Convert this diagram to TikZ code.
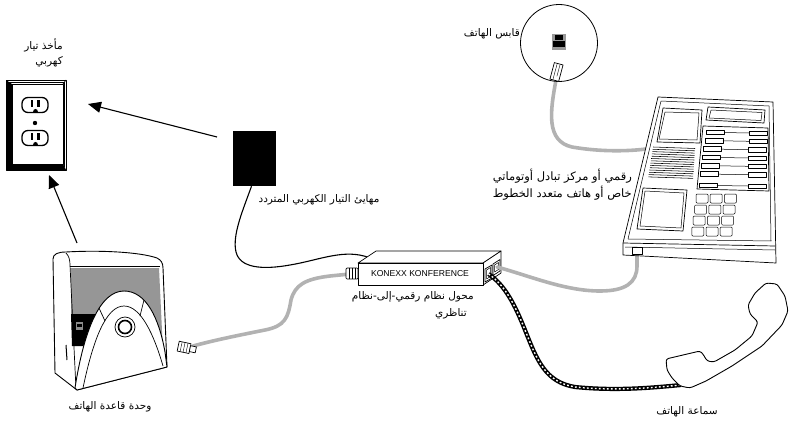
\documentclass[tikz,border=0pt]{standalone}
\usepackage{fontspec}
\usetikzlibrary{arrows.meta}
\TeXXeTstate=1
\newfontfamily\arabicfont[Script=Arabic]{DejaVu Sans}
\newfontfamily\latinsans{Liberation Sans}
\definecolor{cablegray}{RGB}{178,178,178}
\definecolor{windowgray}{RGB}{150,150,150}
\begin{document}
\begin{tikzpicture}[x=1pt,y=-1pt,
  lbl/.style={font=\arabicfont\fontsize{10.5}{12}\selectfont, inner sep=0pt},
  lblwide/.style={font=\arabicfont\fontsize{11.5}{13}\selectfont, inner sep=0pt},
  ink/.style={draw=black, line width=0.7pt, line join=round},
  gcable/.style={draw=cablegray, line width=3.6pt, line cap=round},
  bwire/.style={draw=black, line width=1.1pt},
  twcord/.style={draw=black, line width=4.2pt, postaction={draw=white, line width=1.4pt, dash pattern=on 1.8pt off 2.2pt}},
  bigarrow/.style={draw=black, line width=1.1pt, -{Triangle[length=13pt,width=11pt]}},
]
\useasboundingbox (0,0) rectangle (789,420);

% ================= outlet =================
\node[inner sep=0pt, minimum width=60pt, minimum height=90pt] (outlet) at (36,125) {};
\fill[black] (6,80) -- (12,84) -- (12,164) -- (63,164) -- (66,170) -- (6,170) -- cycle;
\draw[ink, line width=0.9pt] (6,80) rectangle (66,170);
\draw[ink] (12,84) rectangle (63,164);
\draw[ink, line width=0.5pt] (8,82) -- (64,82) -- (64,167);
\draw[ink] (63,84) -- (66,80);
\foreach \cy in {105,138}{
  \draw[ink, line width=1.3pt, rounded corners=6pt] (22,\cy-7.5) rectangle (48,\cy+7.5);
  \fill (30.5,\cy-5) rectangle (33.3,\cy+2);
  \fill (37,\cy-5) rectangle (40,\cy+2);
  \fill (32.5,\cy+6.5) .. controls (32.5,\cy+3) and (37.5,\cy+3) .. (37.5,\cy+6.5) -- cycle;
}
\fill (35,123) circle (2.2pt);
\node[lbl, anchor=east] (outletLbl1) at (63,45) {\beginR مأخذ تيار\endR};
\node[lbl, anchor=east] (outletLbl2) at (63,62) {\beginR كهربي\endR};

% ================= adapter =================
\node[fill=black, inner sep=0pt, minimum width=43pt, minimum height=55pt] (adapter) at (254.5,158.5) {};
\node[lbl] (adapterLbl) at (319,200) {\beginR مهايئ التيار الكهربي المتردد\endR};
\coordinate (adapterTail) at (217,137);
\coordinate (outletHeadA) at (88,104);
\draw[bigarrow] (adapterTail) -- (outletHeadA);

% ================= adapter wire (under box) =================
\draw[bwire] (adapter.south) ++(-3,0) .. controls (243,210) and (232,235) .. (236,252) .. controls (240,268) and (262,270) .. (290,265) .. controls (320,260) and (345,248) .. (370,258);

% ================= converter box =================
\draw[ink, fill=white] (358,263) -- (376,251) -- (501,251) -- (483,263) -- cycle;
\draw[ink, fill=white] (483,263) -- (501,251) -- (501,273) -- (483,285) -- cycle;
\draw[ink, fill=white] (358,263) rectangle (483,285);
\node[font=\latinsans\fontsize{8.6}{10}\selectfont, inner sep=0pt] (konexx) at (420,274) {KONEXX KONFERENCE};
% ports on right face
\draw[ink, fill=white] (485,269) -- (492,265) -- (492,278) -- (485,282) -- cycle;
\draw[ink, line width=0.5pt] (486.5,270) -- (490.5,267.5) -- (490.5,276.5) -- (486.5,279) -- cycle;
\draw[ink, fill=white] (493,264) -- (500,259.5) -- (500,271) -- (493,275.5) -- cycle;
\draw[ink, line width=0.5pt] (494.5,265) -- (498.5,262.5) -- (498.5,269.5) -- (494.5,272) -- cycle;
\coordinate (portA) at (488.5,274);
\coordinate (portB) at (497,267);
\node[lbl, anchor=east] (convLbl1) at (474,297) {\beginR محول نظام رقمي-إلى-نظام\endR};
\node[lbl, anchor=east] (convLbl2) at (467,314) {\beginR تناظري\endR};

% ================= cables =================
% jack to phone
\draw[gcable] (556,80) .. controls (550,112) and (546,141) .. (572,147) .. controls (595,151) and (622,152) .. (646,149);
% phone to converter
\draw[gcable] (637,254) -- (637,266) .. controls (637,283) and (625,291) .. (600,291) .. controls (565,291) and (530,276) .. (portB);
% converter to base unit
\draw[gcable] (350,274) -- (330,276) .. controls (305,279) and (295,285) .. (291,300) .. controls (288,318) and (285,326) .. (265,330) .. controls (240,335) and (215,340) .. (193,346);
% twisted handset cord
\draw[twcord] (portA) .. controls (505,285) and (515,305) .. (525,330) .. controls (537,360) and (545,382) .. (575,387) .. controls (615,391) and (650,388) .. (681,385);

% converter left plug
\draw[ink, fill=white, rounded corners=1pt] (346,268) rectangle (358,279);
\draw[ink, line width=0.4pt] (349,268) -- (349,279) (352,268) -- (352,279) (355,268) -- (355,279);

% base plug
\begin{scope}[rotate around={-12:(187,348)}]
\draw[ink, fill=white] (178,343) rectangle (190,353);
\draw[ink, fill=white] (190,345) rectangle (196,351);
\draw[ink, line width=0.4pt] (181,343) -- (181,353) (184,343) -- (184,353) (187,343) -- (187,353);
\end{scope}

% ================= phone jack =================
\node[draw, circle, line width=0.8pt, minimum size=77pt, inner sep=0pt] (jack) at (559,43) {};
\fill[black!40] (552,34) rectangle (566,50);
\fill[black] (555,35.5) rectangle (563,40);
\fill[black] (553.3,41) rectangle (564.7,47);
\node[draw, fill=white, line width=0.7pt, minimum width=9pt, minimum height=17pt, inner sep=0pt, rotate=-15] (jackplug) at (556.5,72) {};
\draw[ink, line width=0.4pt, rotate around={-15:(556.5,72)}] (555,64) -- (555,80) (558,64) -- (558,76);
\node[lbl, anchor=east] (jackLbl) at (520,34) {\beginR قابس الهاتف\endR};

% ================= desk phone =================
\draw[ink, fill=white] (658,97) -- (773,102) -- (776,263) -- (623,255) -- (623,243) -- cycle;
\draw[ink] (623,243) -- (775,246);
\draw[ink, line width=0.5pt] (625,247) -- (775,250);
\draw[ink, line width=0.5pt] (661,101) -- (769,106) -- (771,241) -- (628,239) -- cycle;
% top-left display
\draw[ink] (663,108) -- (702,110) -- (700,143) -- (657,142) -- cycle;
\draw[ink, line width=0.5pt] (665,112) -- (699,113) -- (697,140) -- (659,139) -- cycle;
% top-right display
\draw[ink] (708,107) -- (765,110) -- (764,123) -- (706,120) -- cycle;
\draw[ink, line width=0.5pt] (711,110) -- (762,112.5) -- (761,120.5) -- (709,118) -- cycle;
% grille
\foreach \i in {0,...,13}{
  \draw[line width=0.55pt] ({653-0.36*\i},{147+2.3*\i}) -- ({695-0.15*\i},{148.5+2.3*\i});
}
% button panel
\draw[ink] (703,126) -- (768,128) -- (769,191) -- (697,189) -- cycle;
\foreach \i/\yy in {0/130,1/138.3,2/146.7,3/155,4/163.3,5/171.7,6/183}{
  \draw[ink, line width=0.5pt, fill=white] ({706-1.2*\i},\yy) rectangle ++(18,4.5);
  \draw[ink, line width=0.5pt, fill=white] ({749-0.2*\i},\yy+0.8) rectangle ++(18,4.5);
  \draw[line width=0.5pt] ({724-1.2*\i},\yy+2.5) -- ({749-0.2*\i},\yy+3);
}
% bottom-left display
\draw[ink] (643,188) -- (687,190) -- (683,231) -- (637,229) -- cycle;
\draw[ink, line width=0.5pt] (645,191) -- (684,193) -- (681,228) -- (640,226) -- cycle;
% keypad
\foreach \r in {0,...,3}{
  \foreach \c in {0,1,2}{
    \draw[ink, line width=0.5pt, rounded corners=1pt] ({696+14.2*\c-1.4*\r},{194+11*\r}) rectangle ++(12,9);
  }
}
% port on strip
\draw[ink, fill=white] (632,247.5) rectangle (642,254);
\node[lblwide, anchor=east] (phoneLbl1) at (632,176) {\beginR رقمي أو مركز تبادل أوتوماتي\endR};
\node[lblwide, anchor=east] (phoneLbl2) at (632,193) {\beginR خاص أو هاتف متعدد الخطوط\endR};

% ================= handset =================
\draw[ink, line width=0.9pt, fill=white, rounded corners=2.5pt] (666,359) -- (700,351) -- (703,354) -- (707,361) -- (714,362) -- (735,350) -- (752,336) -- (758,322) -- (750,314) -- (748,305) -- (755,293) -- (766,283) -- (777,284) -- (785,296) -- (788,311) -- (782,325) -- (762,346) -- (732,366) -- (706,381) -- (690,388) -- (680,386) -- (672,378) -- (667,370) -- cycle;
\node[lbl] (handsetLbl) at (687,412) {\beginR سماعة الهاتف\endR};

% ================= base unit =================
\draw[ink, line width=0.9pt, fill=white] (53,259) .. controls (53,254) and (58,252) .. (66,252) .. controls (100,250) and (140,252) .. (157,258) .. controls (161,260) and (163,263) .. (163,268) -- (167,367) -- (77,390) -- (55,373) -- cycle;
\fill[windowgray] (71,268) -- (159,268) -- (163,352) -- (100,352) -- (100,314) -- (71,314) -- cycle;
\fill[black] (71,314) -- (100,314) -- (100,346) -- (72,346) -- cycle;
\fill[black!45] (75.5,322) rectangle (83,330);
\fill[black] (77,324) rectangle (81.5,327);
\draw[ink] (66,253) .. controls (69,256) and (70,260) .. (70,265) -- (76,389);
\draw[ink] (70,266) -- (160,266);
\draw[ink, line width=0.9pt, fill=white] (75,388) .. controls (84,330) and (100,291) .. (124,291) .. controls (146,291) and (159,318) .. (165,352) -- (167,367) -- (77,390) -- cycle;
\draw[ink] (83,388) .. controls (93,340) and (106,306) .. (124,306) .. controls (141,306) and (154,335) .. (163,366);
\draw[ink] (99,308) -- (105,321);
\draw[ink] (144,300) -- (140,316);
\draw[ink] (125,327) circle (10pt);
\draw[black, line width=1.6pt] (125,327) circle (6.5pt);
\draw[ink, line width=1pt] (66,345) -- (67,360);
\node[inner sep=0pt, minimum width=114pt, minimum height=138pt] (base) at (110,321) {};
\node[lbl] (baseLbl) at (110,407) {\beginR وحدة قاعدة الهاتف\endR};
\coordinate (baseTail) at (77,243);
\coordinate (outletHeadB) at (49,175);
\draw[bigarrow] (baseTail) -- (outletHeadB);

\end{tikzpicture}
\end{document}
